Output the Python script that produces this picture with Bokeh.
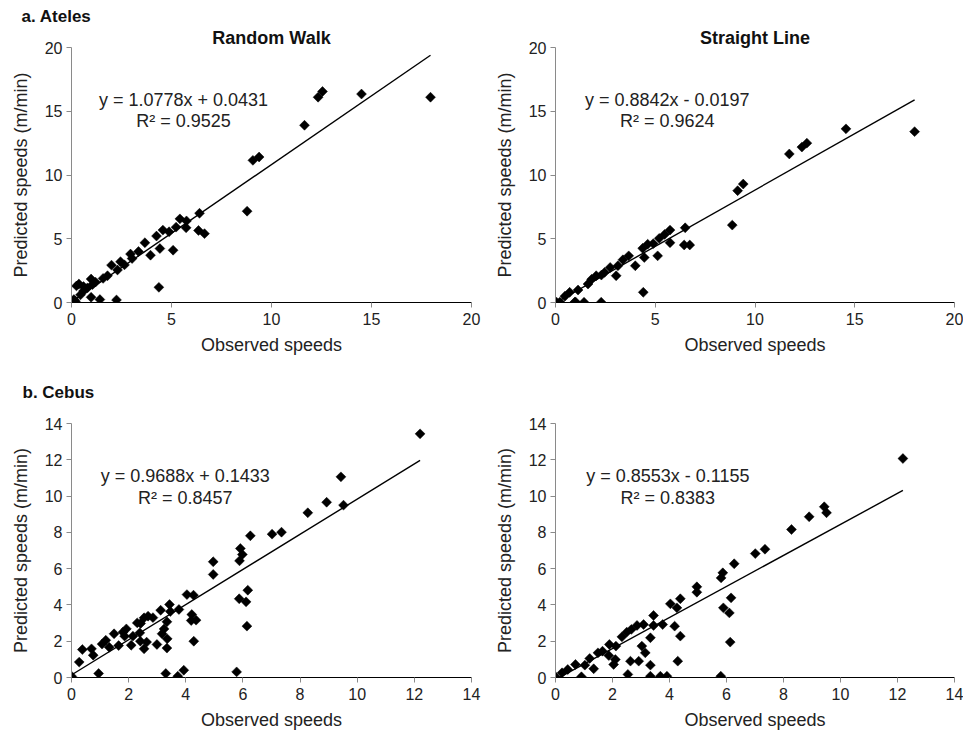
from bokeh.plotting import figure
from bokeh.models import Label, FixedTicker, Range1d, Title
from bokeh.layouts import column, row
from bokeh.embed import file_html
from bokeh.resources import INLINE

FONT = "Liberation Sans"

# ---------------- data ----------------
ateles_rw_obs = [0.0, 0.12, 0.2, 0.25, 0.37, 0.45, 0.6, 0.6, 0.8, 0.98, 0.98, 1.05, 1.2, 1.42,
                 1.58, 1.8, 2.0, 2.25, 2.3, 2.45, 2.65, 2.95, 3.03, 3.35, 3.67, 3.95, 4.25, 4.42,
                 4.37, 4.57, 4.88, 5.08, 5.23, 5.42, 5.73, 5.75, 6.4, 6.35, 6.65, 8.78, 9.07,
                 9.38, 11.65, 12.33, 12.55, 14.5, 17.95]
ateles_rw_pred = [0.0, 0.23, 0.1, 1.3, 1.45, 0.6, 0.9, 1.25, 1.15, 1.84, 0.41, 1.4, 1.6, 0.23,
                  1.89, 2.1, 2.93, 0.2, 2.55, 3.2, 2.95, 3.8, 3.45, 4.0, 4.69, 3.71, 5.21, 4.23,
                  1.19, 5.68, 5.55, 4.1, 5.91, 6.56, 5.86, 6.4, 7.0, 5.65, 5.4, 7.16, 11.15,
                  11.41, 13.9, 16.1, 16.55, 16.35, 16.1]

ateles_sl_obs = [0.0, 0.05, 0.22, 0.47, 0.71, 0.96, 1.0, 1.13, 1.43, 1.63, 1.81, 2.04, 2.29, 2.3,
                 2.46, 2.74, 3.04, 3.13, 3.38, 3.67, 4.0, 4.37, 4.45, 4.4, 4.62, 4.9, 5.12, 5.2,
                 5.47, 5.74, 5.74, 6.5, 6.45, 6.73, 8.86, 9.13, 9.41, 11.72, 12.35, 12.6, 14.56, 18.0]
ateles_sl_pred = [0.0, 0.03, 0.03, 0.49, 0.8, 0.02, 0.05, 0.98, 0.02, 1.45, 1.82, 2.1, 0.02, 2.15,
                  2.36, 2.75, 2.1, 2.88, 3.35, 3.66, 2.88, 4.25, 3.53, 0.8, 4.57, 4.62, 3.66, 5.03,
                  5.34, 5.68, 4.69, 5.86, 4.51, 4.51, 6.07, 8.77, 9.29, 11.65, 12.19, 12.5, 13.62, 13.4]

cebus_rw_obs = [0.01, 0.27, 0.38, 0.7, 0.76, 0.95, 1.07, 1.2, 1.32, 1.49, 1.65, 1.8, 1.86, 1.92,
                2.09, 2.15, 2.3, 2.39, 2.41, 2.42, 2.54, 2.54, 2.63, 2.68, 2.85, 2.99, 3.12, 3.17,
                3.24, 3.3, 3.34, 3.35, 3.34, 3.43, 3.46, 3.72, 3.76, 3.93, 4.04, 4.19, 4.21, 4.27,
                4.28, 4.36, 4.96, 4.96, 5.78, 5.87, 5.88, 5.91, 5.98, 6.11, 6.14, 6.17, 6.26, 7.02,
                7.35, 8.27, 8.93, 9.43, 9.52, 12.2]
cebus_rw_pred = [0.06, 0.85, 1.54, 1.58, 1.23, 0.22, 1.84, 2.05, 1.67, 2.41, 1.76, 2.5, 2.28, 2.68,
                 1.78, 2.28, 3.01, 2.46, 2.0, 2.98, 3.29, 1.58, 1.95, 3.38, 3.3, 1.82, 3.71, 2.41,
                 2.68, 0.22, 3.07, 2.13, 1.62, 4.02, 3.64, 0.07, 3.75, 0.4, 4.57, 3.14, 3.47, 4.54,
                 2.0, 3.16, 6.38, 5.68, 0.31, 4.34, 6.43, 7.11, 6.78, 4.17, 2.83, 4.81, 7.81, 7.9,
                 8.01, 9.08, 9.66, 11.06, 9.5, 13.43]

cebus_sl_obs = [0.0, 0.23, 0.43, 0.7, 0.91, 1.03, 1.2, 1.34, 1.49, 1.65, 1.87, 1.89, 2.04, 2.1,
                2.12, 2.33, 2.5, 2.54, 2.63, 2.66, 2.86, 2.92, 3.03, 3.09, 3.15, 3.33, 3.33, 3.33,
                3.44, 3.44, 3.68, 3.76, 3.91, 4.03, 4.18, 4.26, 4.29, 4.38, 4.38, 4.96, 4.96, 5.8,
                5.81, 5.87, 5.89, 6.1, 6.13, 6.16, 6.27, 7.01, 7.35, 8.28, 8.9, 9.43, 9.51, 12.19]
cebus_sl_pred = [0.04, 0.26, 0.44, 0.72, 0.04, 0.68, 1.05, 0.48, 1.36, 1.45, 1.21, 1.82, 0.72, 0.99,
                 1.73, 2.24, 2.5, 0.17, 0.9, 2.65, 2.87, 0.9, 1.73, 2.92, 1.36, 2.19, 0.68, 0.07,
                 3.42, 2.87, 0.07, 2.92, 0.07, 4.06, 2.83, 3.84, 0.9, 2.28, 4.34, 4.7, 5.0, 0.07,
                 5.49, 5.77, 3.84, 3.56, 1.95, 4.39, 6.27, 6.83, 7.07, 8.16, 8.86, 9.41, 9.08, 12.07]

ateles_rw_fit = (1.0778, 0.0431, "y = 1.0778x + 0.0431", "R² = 0.9525")
ateles_sl_fit = (0.8842, -0.0197, "y = 0.8842x - 0.0197", "R² = 0.9624")
cebus_rw_fit = (0.9688, 0.1433, "y = 0.9688x + 0.1433", "R² = 0.8457")
cebus_sl_fit = (0.8553, -0.1155, "y = 0.8553x - 0.1155", "R² = 0.8383")

ateles_ticks = [0, 5, 10, 15, 20]
cebus_ticks = [0, 2, 4, 6, 8, 10, 12, 14]

x_label = "Observed speeds"
y_label = "Predicted speeds (m/min)"


def panel(obs, pred, fit, ticks, fw, fh, bl, br, bt, eq_xy, r2_xy):
    lo, hi = ticks[0], ticks[-1]
    p = figure(frame_width=fw, frame_height=fh, title=None,
               x_range=Range1d(lo, hi), y_range=Range1d(lo, hi),
               output_backend="svg", toolbar_location=None,
               min_border_left=bl, min_border_right=br,
               min_border_top=bt, min_border_bottom=0)
    p.outline_line_color = None
    p.grid.visible = False
    p.background_fill_color = "white"
    p.border_fill_color = "white"

    for ax in (p.xaxis[0], p.yaxis[0]):
        ax.ticker = FixedTicker(ticks=ticks)
        ax.minor_tick_line_color = None
        ax.major_tick_in = 0
        ax.major_tick_out = 5
        ax.major_tick_line_color = "#8a8a8a"
        ax.major_label_text_font = FONT
        ax.major_label_text_font_size = "16px"
        ax.major_label_text_color = "#222222"
        ax.axis_label_text_font = FONT
        ax.axis_label_text_font_size = "18px"
        ax.axis_label_text_font_style = "normal"
        ax.axis_label_text_color = "#222222"
    p.xaxis.axis_line_color = "black"
    p.xaxis.major_label_standoff = 5
    p.xaxis.axis_label_standoff = 7
    p.xaxis.axis_label = x_label
    p.yaxis.axis_line_color = "#8a8a8a"
    p.yaxis.major_label_standoff = 4
    p.yaxis.axis_label_standoff = 11
    p.yaxis.axis_label = y_label

    slope, icpt, eq, r2 = fit
    x0, x1 = min(obs), max(obs)
    p.line([x0, x1], [slope * x0 + icpt, slope * x1 + icpt], line_color="black", line_width=1.4)
    p.scatter(obs, pred, marker="square", angle=0.785398, size=7,
              fill_color="black", line_color="black", line_width=0.5)

    for txt, (tx, ty) in ((eq, eq_xy), (r2, r2_xy)):
        p.add_layout(Label(x=tx, y=ty, text=txt, text_align="center", text_baseline="middle",
                           text_font=FONT, text_font_size="18px", text_color="#222222"))
    return p


def add_title(p, text, align, offset, standoff, size):
    p.add_layout(Title(text=text, align=align, offset=offset, standoff=standoff,
                       text_font=FONT, text_font_size=size, text_font_style="bold",
                       text_color="#111111"), "above")


a1 = panel(ateles_rw_obs, ateles_rw_pred, ateles_rw_fit, ateles_ticks,
           400, 255, 71, 20, 47, (5.6, 15.9), (5.6, 14.2))
a2 = panel(ateles_sl_obs, ateles_sl_pred, ateles_sl_fit, ateles_ticks,
           399, 255, 63, 9, 47, (5.6, 15.9), (5.6, 14.2))
b1 = panel(cebus_rw_obs, cebus_rw_pred, cebus_rw_fit, cebus_ticks,
           400, 254, 71, 20, 66, (3.98, 11.08), (3.98, 9.92))
b2 = panel(cebus_sl_obs, cebus_sl_pred, cebus_sl_fit, cebus_ticks,
           399, 254, 63, 9, 66, (3.94, 11.08), (3.94, 9.92))

# panel titles (nearest the frame first), then the group headings
add_title(a1, "Random Walk", "center", 0, 0, "18px")
add_title(a1, "a. Ateles", "left", -50, 0, "17px")
add_title(a2, "Straight Line", "center", 0, 0, "18px")
add_title(b1, "b. Cebus", "left", -49, 43, "17px")

layout = column(row(a1, a2), row(b1, b2))
open("out.html", "w").write(file_html(layout, INLINE))
